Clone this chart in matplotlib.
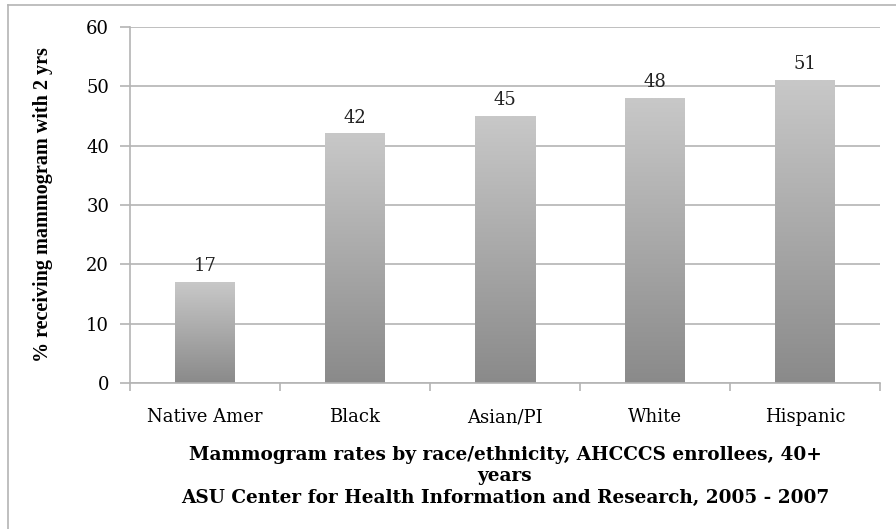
import matplotlib
matplotlib.use("Agg")
import matplotlib.pyplot as plt
import numpy as np
from matplotlib.colors import LinearSegmentedColormap

categories = ["Native Amer", "Black", "Asian/PI", "White", "Hispanic"]
rates = [17, 42, 45, 48, 51]

fig = plt.figure(figsize=(8.96, 5.29), dpi=100)
ax = fig.add_axes([130 / 896, 1 - 383 / 529, 750 / 896, 356 / 529])

x = np.arange(len(categories))
bars = ax.bar(x, rates, width=0.4, color="none", edgecolor="none")

# gradient fill for each bar (light top -> darker bottom)
cmap = LinearSegmentedColormap.from_list("g", ["#8a8a8a", "#c8c8c8"])
grad = np.linspace(0, 1, 256).reshape(-1, 1)
for b in bars:
    x0, w, h = b.get_x(), b.get_width(), b.get_height()
    ax.imshow(grad, cmap=cmap, origin="lower", aspect="auto",
              extent=[x0, x0 + w, 0, h], zorder=2)
    ax.text(x0 + w / 2, h + 1.2, f"{h:g}", ha="center", va="bottom",
            fontsize=13, family="DejaVu Serif", color="#222222")

ax.set_xlim(-0.5, len(categories) - 0.5)
ax.set_ylim(0, 60)
ax.set_yticks(range(0, 61, 10))
ax.grid(axis="y", color="#b4b4b4", linewidth=1.2, zorder=0)
ax.set_axisbelow(True)

ax.set_xticks(np.arange(-0.5, len(categories), 1.0))
ax.set_xticklabels([])
ax.set_xticks(x, minor=True)
ax.set_xticklabels(categories, minor=True, fontsize=13, family="DejaVu Serif")
ax.tick_params(axis="x", which="minor", length=0, pad=18)
ax.tick_params(axis="x", which="major", length=6, color="#b4b4b4", width=1.2)
ax.tick_params(axis="y", length=7, color="#b4b4b4", width=1.2, pad=8)
for lab in ax.get_yticklabels():
    lab.set_fontsize(13)
    lab.set_family("DejaVu Serif")

for s in ["top", "right"]:
    ax.spines[s].set_visible(False)
for s in ["left", "bottom"]:
    ax.spines[s].set_color("#b4b4b4")
    ax.spines[s].set_linewidth(1.2)

fig.text(43 / 896, 1 - 205 / 529, "% receiving mammogram with 2 yrs",
         rotation=90, ha="center", va="center", fontsize=14.5,
         fontweight="bold", family="Liberation Serif")

fig.text(505 / 896, 1 - 476 / 529,
         "Mammogram rates by race/ethnicity, AHCCCS enrollees, 40+\nyears\n"
         "ASU Center for Health Information and Research, 2005 - 2007",
         ha="center", va="center", fontsize=13.3, fontweight="bold",
         family="DejaVu Serif", linespacing=1.25)

# outer chart frame
fig.add_artist(plt.Line2D([8 / 896, 8 / 896], [0, 1 - 5 / 529],
                          transform=fig.transFigure, color="#b4b4b4", lw=1.2))
fig.add_artist(plt.Line2D([8 / 896, 1], [1 - 5 / 529, 1 - 5 / 529],
                          transform=fig.transFigure, color="#b4b4b4", lw=1.2))

fig.savefig("out.png", dpi=100)
